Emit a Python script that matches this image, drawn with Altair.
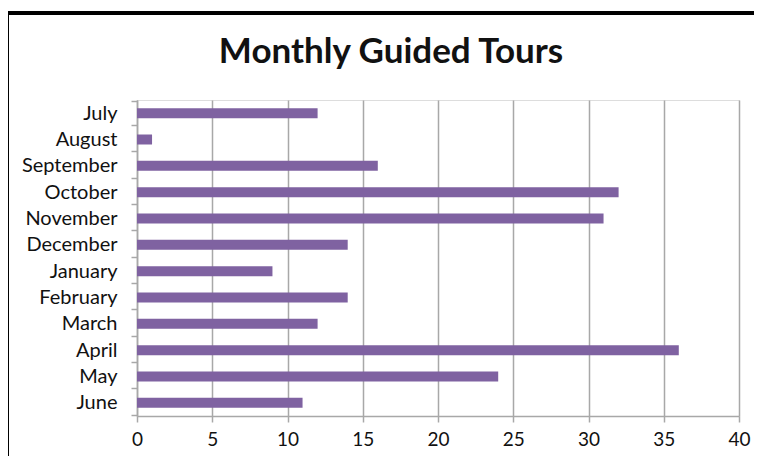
import altair as alt
import pandas as pd

months = ["July", "August", "September", "October", "November", "December",
          "January", "February", "March", "April", "May", "June"]
tours = [12, 1, 16, 32, 31, 14, 9, 14, 12, 36, 24, 11]
title_text = ["Monthly Guided Tours"]

df = pd.DataFrame({"Month": months, "Tours": tours})
tdf = pd.DataFrame({"t": title_text})

FONT = "Lato"
W, H = 602, 316

bars = alt.Chart(df).mark_bar(color="#7f62a1", size=10).encode(
    x=alt.X("Tours:Q", scale=alt.Scale(domain=[0, 40], nice=False),
            axis=alt.Axis(values=[0, 5, 10, 15, 20, 25, 30, 35, 40], title=None,
                          grid=True, gridColor="#a8a8a8", gridWidth=1.5,
                          domainColor="#a8a8a8", domainWidth=1.5,
                          tickColor="#a8a8a8", tickSize=6, tickWidth=1.5,
                          labelFont=FONT, labelFontSize=19, labelColor="#111111",
                          labelPadding=8, labelFlush=False)),
    y=alt.Y("Month:N", sort=months,
            axis=alt.Axis(title=None, tickBand="extent", tickSize=6, tickWidth=1.5,
                          tickColor="#a8a8a8", domainColor="#a8a8a8", domainWidth=1.5,
                          labelFont=FONT, labelFontSize=20, labelColor="#111111",
                          labelPadding=14, grid=False)),
)

title = alt.Chart(tdf).mark_text(font=FONT, fontSize=35, fontWeight="bold",
                                 color="#111111", align="center",
                                 baseline="alphabetic").encode(
    text="t:N", x=alt.value(254), y=alt.value(-37))

frame_left = alt.Chart(df).mark_rule(color="#000000", strokeWidth=3).encode(
    x=alt.value(-129.5), y=alt.value(-87), y2=alt.value(H + 60))
frame_top = alt.Chart(df).mark_rule(color="#000000", strokeWidth=3).encode(
    x=alt.value(-131), x2=alt.value(W + 60), y=alt.value(-87))

chart = alt.layer(bars, title, frame_left, frame_top).properties(
    width=W, height=H,
    autosize=alt.AutoSizeParams(type="none"),
    padding={"left": 129, "top": 92, "right": 15, "bottom": 40},
).configure_view(stroke=None).configure(background="white")

chart.save("out.html", embed_options={"renderer": "svg", "actions": False})
